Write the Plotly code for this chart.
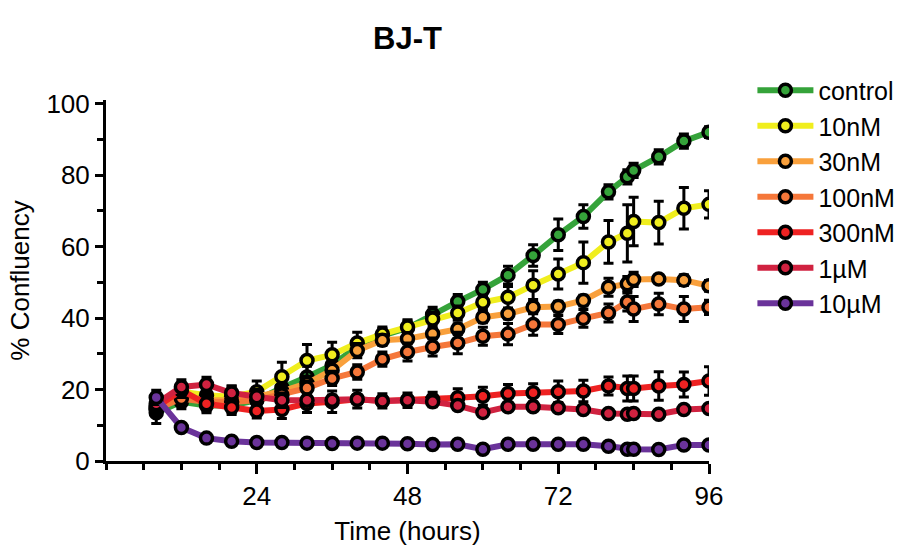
import plotly.graph_objects as go

times = [8, 12, 16, 20, 24, 28, 32, 36, 40, 44, 48, 52, 56, 60, 64, 68, 72, 76, 80, 83, 84, 88, 92, 96]

names = ["control", "10nM", "30nM", "100nM", "300nM", "1µM", "10µM"]
colors = ["#35a33a", "#f0ee1e", "#f9a03c", "#f5773a", "#ee2222", "#d02240", "#6a339a"]

control = [13.5, 16.6, 15.5, 15.5, 17, 20.5, 23.5, 26.8, 32, 35.1, 37.2, 41, 44.6, 48, 52, 57.5, 63.3, 68.4, 75.3, 79.5, 81.3, 85.1, 89.5, 92]
nm10 = [15.2, 19.4, 18.4, 18, 19.4, 23.6, 28.1, 29.7, 33, 35.5, 37.5, 39.7, 41.4, 44.4, 45.8, 49.2, 52.3, 55.5, 61.3, 63.7, 67, 66.7, 70.7, 71.8]
nm30 = [14.5, 18, 17, 17, 18, 19.5, 21.7, 25.4, 30.9, 33.8, 34.2, 35.6, 36.9, 40.2, 41.2, 43, 43.2, 44.9, 48.6, 49.6, 50.8, 50.9, 50.6, 49]
nm100 = [14.5, 17.5, 16.5, 16.5, 17, 18.5, 20.4, 23.1, 24.9, 28.5, 30.5, 31.9, 33, 34.9, 35.5, 38.2, 38.2, 39.9, 41.4, 44.5, 42.5, 43.9, 42.5, 43]
nm300 = [15, 19.8, 16, 15, 14, 14.4, 16.1, 16.6, 17.3, 16.8, 17, 17.2, 17.7, 18.1, 18.9, 19.1, 19.4, 19.6, 21, 20.3, 20.3, 21, 21.4, 22.4]
um1 = [16, 20.7, 21.4, 19, 18, 17, 17, 17, 17.3, 16.8, 17, 16.6, 15.5, 13.6, 15.2, 15.2, 14.9, 14.4, 13.3, 13.1, 13.3, 13.1, 14.4, 14.7]
um10 = [17.8, 9.4, 6.4, 5.5, 5.2, 5.2, 5.0, 4.9, 5.0, 5.0, 4.8, 4.6, 4.7, 3.3, 4.7, 4.7, 4.7, 4.7, 4.1, 3.3, 3.3, 3.2, 4.5, 4.5]

err_control = [3, 2, 2, 2, 2, 3, 3, 3, 2, 2, 2, 2, 2, 2, 2.5, 3, 4.4, 3.3, 2, 2, 2, 2, 2, 1.5]
err_nm10 = [2, 2, 2, 3, 3, 4, 4.5, 3.5, 3, 2, 2, 2, 2, 2, 3, 4, 4.2, 5.8, 6, 8, 6.8, 6, 5.8, 3.8]
err_nm30 = [2, 2, 2, 2, 2, 2, 2, 2, 2, 1.5, 1.5, 1.5, 1.5, 1.5, 1.5, 1.5, 1.5, 1.5, 2.5, 2, 2, 1, 1.5, 1.5]
err_nm100 = [2, 2, 2, 2, 2, 2, 2, 2, 2, 2, 2.5, 2.5, 3, 2.5, 3, 3, 2.5, 2.5, 2.5, 2.5, 3.5, 3, 3.5, 2]
err_nm300 = [2, 2, 2, 2, 2, 2.5, 2.5, 3, 2.5, 2, 2, 2, 2.5, 2.5, 2.5, 2.5, 3, 3, 2.5, 3.5, 3.5, 4, 3.5, 4]
err_um1 = [2, 2, 2, 2, 2, 2, 1.5, 1.5, 1, 1, 1, 1, 1, 1, 1, 1, 1, 1, 0.8, 0.8, 0.8, 0.8, 0.8, 0.8]
err_um10 = [2, 1, 1, 1, 1, 1, 0.8, 0.8, 0.8, 0.8, 0.8, 0.8, 0.8, 0.8, 0.8, 0.8, 0.8, 0.8, 0.8, 0.8, 0.8, 0.8, 0.8, 0.8]

series = [control, nm10, nm30, nm100, nm300, um1, um10]
errors = [err_control, err_nm10, err_nm30, err_nm100, err_nm300, err_um1, err_um10]

y_ticks = [0, 20, 40, 60, 80, 100]
x_ticks = [24, 48, 72, 96]

FONT = "Arial, Liberation Sans, sans-serif"

fig = go.Figure()
for i, (name, col, ys, es) in enumerate(zip(names, colors, series, errors)):
    fig.add_trace(go.Scatter(
        x=times, y=ys, name=name, mode="lines+markers",
        line=dict(color=col, width=6),
        marker=dict(symbol="circle", size=12, color=col, line=dict(color="black", width=3.5)),
        error_y=dict(type="data", array=es, visible=True, color="black", thickness=3, width=5),
    ))

fig.update_layout(
    width=912, height=553,
    paper_bgcolor="white", plot_bgcolor="white",
    margin=dict(l=106, r=202, t=100, b=90),
    font=dict(family=FONT, size=26, color="black"),
    title=dict(text="<b>BJ-T</b>", x=0.5, xref="paper", y=1 - 38 / 553, yref="container",
               xanchor="center", yanchor="middle", font=dict(size=31, family=FONT)),
    showlegend=True,
    legend=dict(x=1.072, xanchor="left", y=1.09, yanchor="top", font=dict(size=25),
                tracegroupgap=0, itemwidth=56, bgcolor="rgba(0,0,0,0)"),
    xaxis=dict(range=[0, 96], showline=True, linecolor="black", linewidth=3,
               tickmode="array", tickvals=x_ticks, ticktext=[str(v) for v in x_ticks],
               ticks="outside", ticklen=10, tickwidth=3, tickcolor="black",
               showgrid=False, zeroline=False,
               minor=dict(ticks="outside", ticklen=6, tickwidth=3, tickcolor="black", dtick=6, tick0=0, showgrid=False),
               title=dict(text="Time (hours)", font=dict(size=26), standoff=12),
               tickfont=dict(size=26)),
    yaxis=dict(range=[0, 101], showline=True, linecolor="black", linewidth=3,
               tickmode="array", tickvals=y_ticks, ticktext=[str(v) for v in y_ticks],
               ticks="outside", ticklen=8, tickwidth=3, tickcolor="black",
               showgrid=False, zeroline=False,
               minor=dict(ticks="outside", ticklen=6, tickwidth=3, tickcolor="black", dtick=10, tick0=0, showgrid=False),
               title=dict(text="% Confluency", font=dict(size=26), standoff=10),
               tickfont=dict(size=26)),
)

fig.write_html("out.html")
